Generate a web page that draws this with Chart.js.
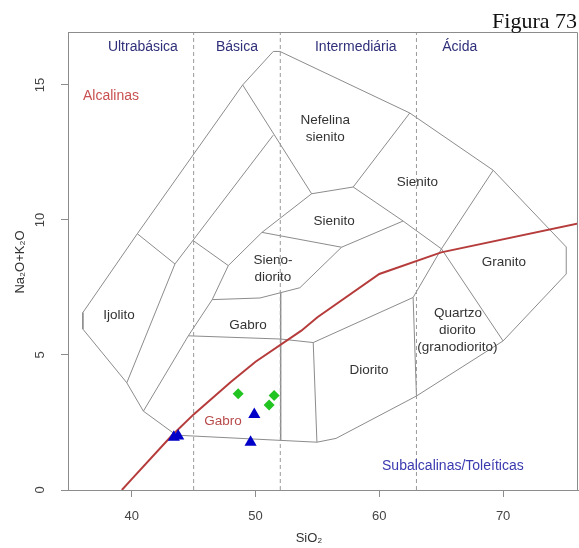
<!DOCTYPE html>
<html><head><meta charset="utf-8">
<script src="https://cdn.jsdelivr.net/npm/chart.js@4/dist/chart.umd.min.js"></script>
<style>html,body{margin:0;padding:0;background:#fff}canvas{display:block}</style>
</head><body>
<canvas id="c" width="579" height="548"></canvas>
<script>
// ---------- data ----------
const xTicks = [40, 50, 60, 70];
const yTicks = [0, 5, 10, 15];
const silicaLimits = [45, 52, 63];
const silicaClassNames = ['Ultrabásica', 'Básica', 'Intermediária', 'Ácida'];
const silicaClassCentres = [40.9, 48.5, 58.1, 66.5];

// samples (SiO2, Na2O+K2O)
const greenSiO2 = [48.6, 51.5, 51.1];
const greenAlk  = [3.56, 3.5, 3.15];
const blueSiO2  = [43.4, 43.75, 49.9, 49.6];
const blueAlk   = [1.95, 2.0, 2.8, 1.77];

// alkaline / subalkaline divider
const dividerSiO2 = [39.2, 40, 43.2, 45, 48, 50, 53.7, 55, 60, 65, 77.4];
const dividerAlk  = [0, 0.4, 2, 2.8, 4, 4.75, 5.9, 6.4, 8, 8.8, 10];

// field boundaries [SiO2, Na2O+K2O]
const outerBoundary = [[36.05,6.57],[36.05,5.96],[39.6,3.97],[40.94,2.92],[43.6,2.03],[54.96,1.77],[56.5,1.91],[63.0,3.48],[70.0,5.52],[75.1,8.0],[75.1,9.0],[69.2,11.84],[62.46,13.96],[51.97,16.24],[51.43,16.24],[48.96,15.0],[40.45,9.49],[36.05,6.57]];
const innerBoundaries = [
  [[40.45,9.49],[43.49,8.37],[39.6,3.97]],
  [[51.43,13.14],[43.49,8.37]],
  [[44.95,9.24],[47.8,8.31]],
  [[48.96,15.0],[54.53,10.97],[57.89,11.22]],
  [[62.46,13.96],[57.89,11.22],[61.92,9.96],[65.02,8.93]],
  [[69.2,11.84],[65.02,8.93],[62.73,7.13],[63.0,3.48]],
  [[65.02,8.93],[70.0,5.52]],
  [[54.53,10.97],[50.52,9.54],[47.8,8.31],[46.5,7.05],[44.57,5.71],[40.94,2.92]],
  [[50.52,9.54],[56.95,8.99],[61.92,9.96]],
  [[56.95,8.99],[53.58,7.49],[50.36,7.11],[46.5,7.05]],
  [[44.57,5.71],[52.03,5.59],[54.66,5.46],[62.73,7.13]],
  [[54.66,5.46],[54.96,1.77]],
  [[52.03,7.31],[52.03,1.84]]
];

// field names and their anchor (SiO2, Na2O+K2O)
const fieldNames = ['Nefelina','sienito','Sienito','Sienito','Sieno-','diorito','Ijolito','Gabro','Granito','Quartzo','diorito','(granodiorito)','Diorito'];
const fieldSiO2  = [55.63, 55.63, 63.08, 56.34, 51.41, 51.41, 38.97, 49.39, 70.06, 66.35, 66.3, 66.3, 59.17];
const fieldAlk   = [13.70, 13.06, 11.40, 9.96, 8.52, 7.89, 6.46, 6.11, 8.42, 6.54, 5.93, 5.29, 4.42];

// ---------- chart ----------
const pts = (xs, ys) => xs.map((v, i) => ({x: v, y: ys[i]}));
const pairs = arr => arr.map(p => ({x: p[0], y: p[1]}));
const FONT = '"Liberation Sans", Arial, sans-serif';
const YMAX = 16.96;

const lineSet = (data, color, width, dash) => ({
  type: 'line', data, borderColor: color, borderWidth: width, borderDash: dash || [],
  pointRadius: 0, fill: false, tension: 0, showLine: true
});

const datasets = [
  { type: 'scatter', data: pts(greenSiO2, greenAlk), pointStyle: 'rectRot', pointRadius: 5.5,
    backgroundColor: '#22c422', borderColor: '#22c422', borderWidth: 0 },
  { type: 'scatter', data: pts(blueSiO2, blueAlk), pointStyle: 'triangle', pointRadius: 7,
    backgroundColor: '#0000c8', borderColor: '#0000c8', borderWidth: 0 },
  lineSet(pts(dividerSiO2, dividerAlk), '#b63c3c', 2),
];
silicaLimits.forEach(v => datasets.push(lineSet([{x: v, y: 0}, {x: v, y: YMAX}], '#9a9a9a', 1, [4, 3])));
datasets.push(lineSet(pairs(outerBoundary), '#8c8c8c', 1));
innerBoundaries.forEach(b => datasets.push(lineSet(pairs(b), '#8c8c8c', 1)));

const overlay = {
  id: 'overlay',
  beforeDraw(chart) {
    const c = chart.ctx; c.save(); c.fillStyle = '#fff'; c.fillRect(0, 0, chart.width, chart.height); c.restore();
  },
  afterDraw(chart) {
    const {ctx, chartArea: a, scales: {x, y}} = chart;
    ctx.save();
    // box
    ctx.strokeStyle = '#8c8c8c'; ctx.lineWidth = 1;
    ctx.beginPath();
    ctx.moveTo(a.left, a.top + 0.5); ctx.lineTo(a.right - 0.5, a.top + 0.5); ctx.lineTo(a.right - 0.5, a.bottom);
    ctx.stroke();
    // y tick labels
    ctx.font = '13px ' + FONT; ctx.fillStyle = '#444'; ctx.textAlign = 'center'; ctx.textBaseline = 'middle';
    yTicks.forEach(v => {
      ctx.save(); ctx.translate(40, y.getPixelForValue(v)); ctx.rotate(-Math.PI / 2);
      ctx.fillText(String(v), 0, 0); ctx.restore();
    });
    // axis titles
    ctx.fillStyle = '#333'; ctx.font = '13px ' + FONT;
    ctx.fillText('SiO\u2082', 309, 538);
    ctx.save(); ctx.translate(20, 262); ctx.rotate(-Math.PI / 2);
    ctx.fillText('Na\u2082O+K\u2082O', 0, 0); ctx.restore();
    // silica classes
    ctx.font = '14px ' + FONT; ctx.fillStyle = '#2f2f7a';
    silicaClassNames.forEach((n, i) => ctx.fillText(n, x.getPixelForValue(silicaClassCentres[i]), 47));
    // field names
    ctx.font = '13.5px ' + FONT; ctx.fillStyle = '#333';
    fieldNames.forEach((n, i) => ctx.fillText(n, x.getPixelForValue(fieldSiO2[i]), y.getPixelForValue(fieldAlk[i])));
    ctx.fillStyle = '#b84a4a';
    ctx.fillText('Gabro', x.getPixelForValue(47.38), y.getPixelForValue(2.53));
    ctx.fillStyle = '#c85050'; ctx.textAlign = 'left'; ctx.font = '14px ' + FONT;
    ctx.fillText('Alcalinas', x.getPixelForValue(36.06), y.getPixelForValue(14.59));
    ctx.fillStyle = '#3a3ab0'; ctx.textAlign = 'center';
    ctx.fillText('Subalcalinas/Toleíticas', x.getPixelForValue(65.94), y.getPixelForValue(0.89));
    // figure caption
    ctx.fillStyle = '#111'; ctx.textAlign = 'right'; ctx.textBaseline = 'alphabetic';
    ctx.font = '22px "Liberation Serif", "Times New Roman", serif';
    ctx.fillText('Figura 73', 577, 28);
    ctx.restore();
  }
};

new Chart(document.getElementById('c'), {
  type: 'scatter',
  data: { datasets },
  options: {
    responsive: false, animation: false, devicePixelRatio: 1,
    layout: { autoPadding: false, padding: { left: 0, right: 1, top: 32, bottom: 0 } },
    plugins: { legend: { display: false }, tooltip: { enabled: false } },
    scales: {
      x: {
        type: 'linear', min: 34.85, max: 76.05,
        afterBuildTicks: s => { s.ticks = xTicks.map(v => ({value: v})); },
        afterFit: s => { s.height = 58; },
        grid: { drawOnChartArea: false, drawTicks: true, tickLength: 7, color: '#8c8c8c' },
        border: { display: true, color: '#8c8c8c' },
        ticks: { color: '#444', font: { family: FONT, size: 13 }, padding: 12, maxRotation: 0, autoSkip: false }
      },
      y: {
        type: 'linear', min: 0, max: YMAX,
        afterBuildTicks: s => { s.ticks = yTicks.map(v => ({value: v})); },
        afterFit: s => { s.width = 68; },
        grid: { drawOnChartArea: false, drawTicks: true, tickLength: 7, color: '#8c8c8c' },
        border: { display: true, color: '#8c8c8c' },
        ticks: { display: false }
      }
    }
  },
  plugins: [overlay]
});
</script>
</body></html>
